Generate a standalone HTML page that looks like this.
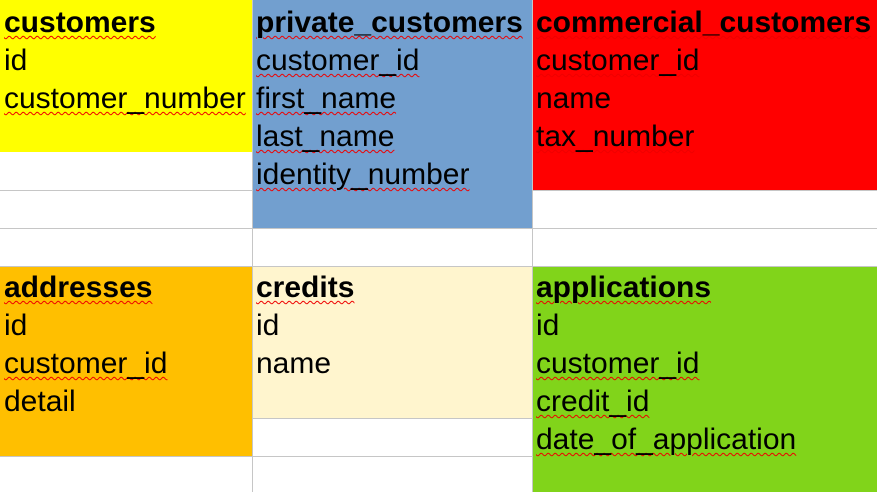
<!DOCTYPE html>
<html><head><meta charset="utf-8"><style>
body{margin:0;width:877px;height:492px;position:relative;overflow:hidden;background:#fff;font-family:"Liberation Sans",sans-serif}
.h{position:absolute;height:1px;left:0;width:877px;background:#c6c6c6}
.v{position:absolute;width:1px;top:0;height:492px;background:#c6c6c6}
.b{position:absolute}
.c{position:absolute;left:4px;font-size:30px;line-height:38px;white-space:nowrap;color:#000;margin-top:2px}
.t{font-weight:bold;font-size:30px}
.w{text-decoration:underline wavy #e00;text-decoration-thickness:1px;text-underline-offset:3px}
</style></head><body>
<div class="h" style="top:190px"></div>
<div class="h" style="top:228px"></div>
<div class="h" style="top:266px"></div>
<div class="h" style="top:418px"></div>
<div class="h" style="top:456px"></div>
<div class="v" style="left:252px"></div>
<div class="v" style="left:532px"></div>

<div class="b" style="left:0;top:0;width:252px;height:152px;background:#ffff00">
<div class="c t w" style="top:2px">customers</div>
<div class="c" style="top:40px">id</div>
<div class="c w" style="top:78px">customer_number</div></div>

<div class="b" style="left:253px;top:0;width:279px;height:228px;background:#729fcf">
<div class="c t w" style="top:2px;left:3px">private_customers</div>
<div class="c w" style="top:40px;left:3px">customer_id</div>
<div class="c w" style="top:78px;left:3px">first_name</div>
<div class="c w" style="top:116px;left:3px">last_name</div>
<div class="c w" style="top:154px;left:3px">identity_number</div></div>

<div class="b" style="left:533px;top:0;width:344px;height:190px;background:#ff0000">
<div class="c t w" style="top:2px;left:3px">commercial_customers</div>
<div class="c w" style="top:40px;left:3px">customer_id</div>
<div class="c" style="top:78px;left:3px">name</div>
<div class="c w" style="top:116px;left:3px">tax_number</div></div>

<div class="b" style="left:0;top:267px;width:252px;height:189px;background:#ffbf00">
<div class="c t w" style="top:0px">addresses</div>
<div class="c" style="top:38px">id</div>
<div class="c w" style="top:76px">customer_id</div>
<div class="c" style="top:114px">detail</div></div>

<div class="b" style="left:253px;top:267px;width:279px;height:151px;background:#fff5ce">
<div class="c t w" style="top:0px;left:3px">credits</div>
<div class="c" style="top:38px;left:3px">id</div>
<div class="c" style="top:76px;left:3px">name</div></div>

<div class="b" style="left:533px;top:267px;width:344px;height:225px;background:#81d41a">
<div class="c t w" style="top:0px;left:3px">applications</div>
<div class="c" style="top:38px;left:3px">id</div>
<div class="c w" style="top:76px;left:3px">customer_id</div>
<div class="c w" style="top:114px;left:3px">credit_id</div>
<div class="c w" style="top:152px;left:3px">date_of_application</div></div>
</body></html>
